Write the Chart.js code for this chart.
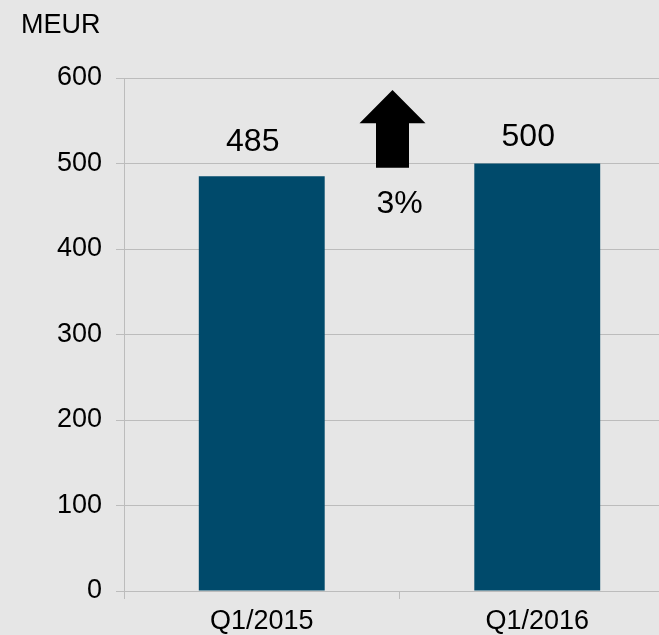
<!DOCTYPE html>
<html>
<head>
<meta charset="utf-8">
<script src="https://cdn.jsdelivr.net/npm/chart.js@4/dist/chart.umd.min.js"></script>
<style>
  html, body { margin: 0; padding: 0; background: #e6e6e6; overflow: hidden; }
  #wrap { width: 680px; height: 635px; }
</style>
</head>
<body>
<div id="wrap"><canvas id="chart" width="680" height="635"></canvas></div>
<script>
const categories = ["Q1/2015", "Q1/2016"];
const revenue = [485, 500];
const yTicks = [0, 100, 200, 300, 400, 500, 600];
const unitLabel = "MEUR";
const changeLabel = "3%";

const FONT = "'Liberation Sans', Arial, sans-serif";
const GRID = "#bcbcbc";

// value labels over the bars, plus the growth arrow between them
const annotations = {
  id: "annotations",
  afterDatasetsDraw(chart) {
    const ctx = chart.ctx;
    const y = chart.scales.y;
    const x = chart.scales.x;
    const bars = chart.getDatasetMeta(0).data;
    const lift = [30, 20];

    ctx.save();
    ctx.fillStyle = "#000";
    ctx.font = "32px " + FONT;
    ctx.textAlign = "center";
    ctx.textBaseline = "alphabetic";
    bars.forEach((bar, i) => {
      ctx.fillText(String(revenue[i]), bar.x - 9, y.getPixelForValue(revenue[i] + lift[i]));
    });

    // arrow sits on the border between the two categories
    const mid = (x.getPixelForValue(0) + x.getPixelForValue(1)) / 2;
    const ax = mid - 7;
    const tip = y.getPixelForValue(586);
    const neck = y.getPixelForValue(547);
    const foot = y.getPixelForValue(495);
    ctx.beginPath();
    ctx.moveTo(ax, tip);
    ctx.lineTo(ax + 33, neck);
    ctx.lineTo(ax + 16.5, neck);
    ctx.lineTo(ax + 16.5, foot);
    ctx.lineTo(ax - 16.5, foot);
    ctx.lineTo(ax - 16.5, neck);
    ctx.lineTo(ax - 33, neck);
    ctx.closePath();
    ctx.fill();

    ctx.fillText(changeLabel, mid, y.getPixelForValue(442));

    ctx.font = "27px " + FONT;
    ctx.textAlign = "left";
    ctx.fillText(unitLabel, 21, 33);
    ctx.restore();
  }
};

new Chart(document.getElementById("chart").getContext("2d"), {
  type: "bar",
  data: {
    labels: categories,
    datasets: [
      {
        data: revenue,
        backgroundColor: "#004a6b",
        borderWidth: 0,
        barPercentage: 0.457,
        categoryPercentage: 1,
      },
    ],
  },
  options: {
    responsive: false,
    animation: false,
    layout: { padding: { top: 78, right: 5, left: 0, bottom: 0 } },
    plugins: {
      legend: { display: false },
      tooltip: { enabled: false },
    },
    scales: {
      x: {
        afterFit: (scale) => { scale.height = 44; },
        grid: {
          drawOnChartArea: false,
          color: GRID,
          tickLength: 8,
          offset: true,
        },
        border: { color: GRID },
        ticks: { color: "#000", font: { family: FONT, size: 27 }, padding: 6 },
      },
      y: {
        min: 0,
        max: 600,
        afterFit: (scale) => { scale.width = 124; },
        afterBuildTicks: (scale) => { scale.ticks = yTicks.map((v) => ({ value: v })); },
        grid: { color: GRID, tickLength: 8 },
        border: { color: GRID },
        ticks: { color: "#000", font: { family: FONT, size: 27 }, padding: 14 },
      },
    },
  },
  plugins: [annotations],
});
</script>
</body>
</html>
